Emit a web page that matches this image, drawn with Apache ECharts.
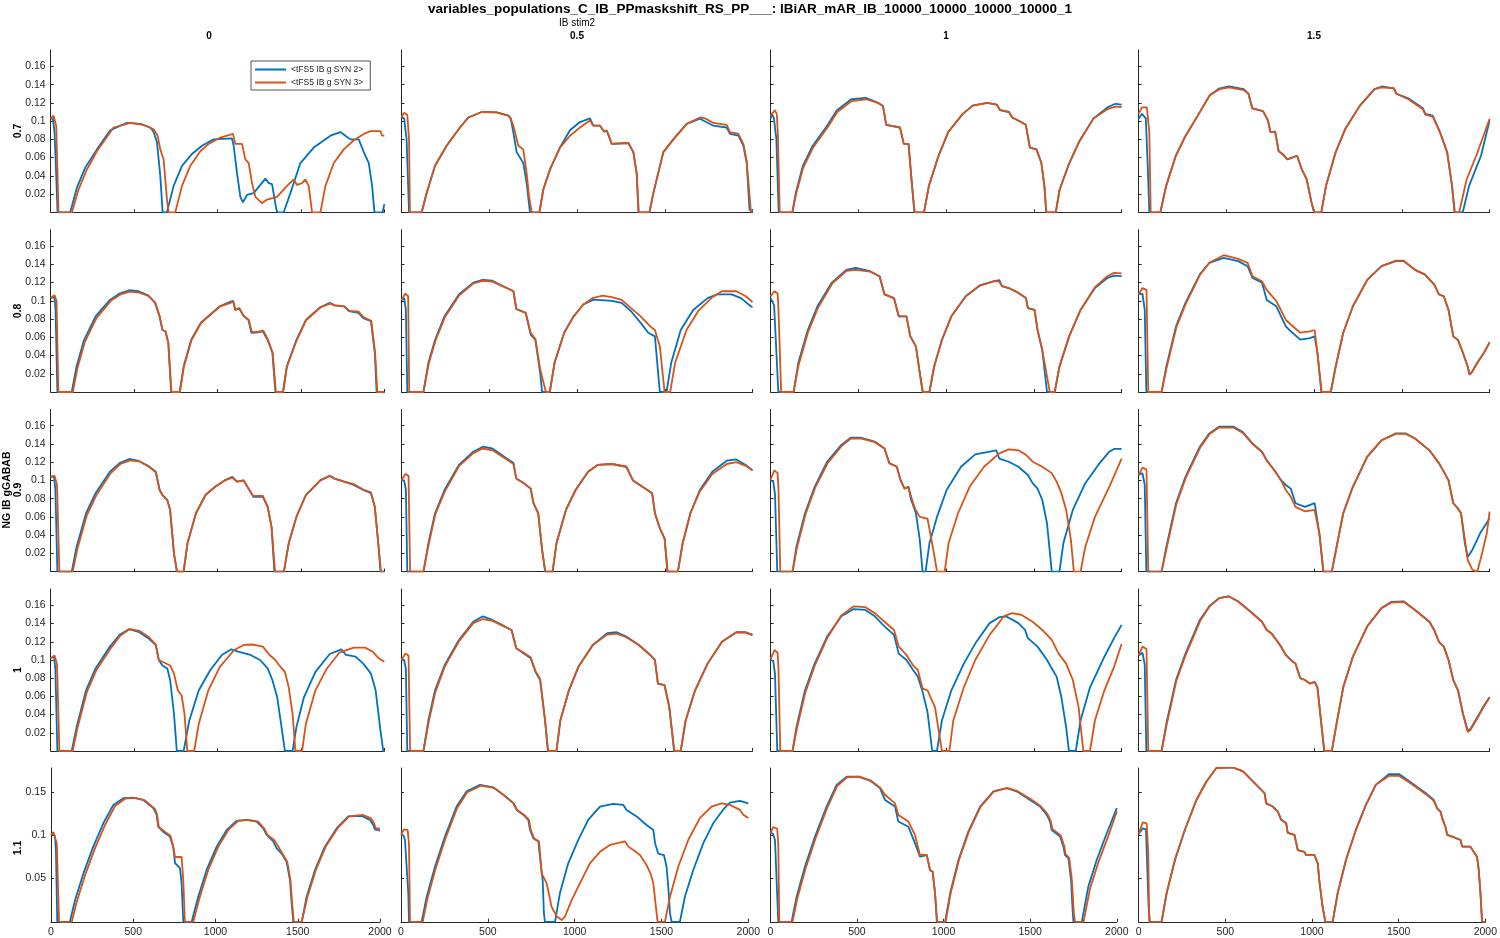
<!DOCTYPE html>
<html>
<head>
<meta charset="utf-8">
<script src="https://cdn.jsdelivr.net/npm/echarts@6/dist/echarts.min.js"></script>
<style>html,body{margin:0;padding:0;background:#fff}#c{width:1500px;height:938px}</style>
</head>
<body>
<div id="c"></div>
<script>
const titleText = 'variables_populations_C_IB_PPmaskshift_RS_PP___: IBiAR_mAR_IB_10000_10000_10000_10000_1';
const colVarName = 'IB stim2';
const rowVarName = 'NG IB gGABAB';
const colLabels = ['0', '0.5', '1', '1.5'];
const rowLabels = ['0.7', '0.8', '0.9', '1', '1.1'];
const seriesNames = ['<tFS5 IB g SYN 2>', '<tFS5 IB g SYN 3>'];
const xTicks = [0, 500, 1000, 1500, 2000];
const yTicksFine = [0.02, 0.04, 0.06, 0.08, 0.1, 0.12, 0.14, 0.16];
const yTicksCoarse = [0.05, 0.1, 0.15];

// row 0.7
const b11 = [[0,0.103],[12,0.104],[23,0.088],[31,0.051],[41,0],[117,0],[157,0.027],[207,0.049],[277,0.069],[357,0.090],[457,0.098],[537,0.097],[597,0.093],[617,0.088],[637,0.077],[657,0.040],[671,0],[697,0],[737,0.029],[787,0.051],[847,0.064],[907,0.073],[977,0.080],[1087,0.081],[1097,0.073],[1117,0.043],[1137,0.017],[1153,0.011],[1177,0.019],[1217,0.021],[1287,0.037],[1307,0.032],[1327,0.031],[1353,0.003],[1360,0],[1397,0],[1437,0.021],[1497,0.054],[1577,0.071],[1677,0.084],[1737,0.088],[1767,0.084],[1797,0.080],[1847,0.080],[1877,0.066],[1907,0.054],[1927,0.029],[1941,0],[1990,0],[2000,0.009]];
const o11 = [[0,0.102],[17,0.106],[27,0.105],[33,0.095],[47,0],[127,0],[167,0.025],[217,0.047],[277,0.067],[377,0.093],[477,0.098],[557,0.096],[617,0.091],[641,0.084],[657,0.069],[677,0.058],[697,0.014],[707,0],[747,0],[787,0.029],[837,0.051],[897,0.067],[947,0.075],[1017,0.082],[1093,0.086],[1107,0.075],[1147,0.075],[1167,0.058],[1187,0.054],[1207,0.032],[1227,0.017],[1267,0.010],[1297,0.014],[1357,0.017],[1417,0.029],[1457,0.036],[1477,0.030],[1507,0.032],[1527,0.036],[1547,0.029],[1567,0],[1617,0],[1647,0.029],[1697,0.054],[1757,0.069],[1817,0.079],[1877,0.086],[1917,0.089],[1977,0.089],[1987,0.084],[2000,0.084]];
const b12 = [[0,0.104],[15,0.103],[29,0.080],[43,0],[115,0],[143,0.021],[191,0.051],[257,0.073],[333,0.093],[381,0.104],[457,0.110],[542,0.1095],[609,0.106],[622,0.103],[637,0.088],[656,0.066],[694,0.054],[713,0.032],[732,0],[786,0],[808,0.025],[846,0.047],[903,0.071],[960,0.090],[1017,0.099],[1074,0.103],[1093,0.095],[1131,0.095],[1154,0.0885],[1170,0.0895],[1198,0.075],[1293,0.076],[1321,0.066],[1340,0.043],[1350,0],[1413,0],[1435,0.021],[1492,0.066],[1549,0.080],[1625,0.097],[1701,0.1026],[1730,0.0996],[1777,0.095],[1853,0.093],[1872,0.086],[1920,0.084],[1948,0.073],[1967,0.054],[1983,0.003],[2000,0]];
const o12 = [[0,0.104],[14,0.109],[33,0.107],[43,0.080],[48,0],[115,0],[143,0.021],[191,0.051],[257,0.073],[333,0.093],[381,0.104],[457,0.110],[542,0.1096],[609,0.106],[622,0.103],[637,0.095],[666,0.073],[694,0.069],[713,0.043],[727,0.017],[742,0],[786,0],[808,0.025],[846,0.047],[903,0.071],[960,0.084],[1017,0.093],[1074,0.1007],[1093,0.095],[1131,0.095],[1154,0.0885],[1170,0.0895],[1198,0.075],[1293,0.076],[1321,0.066],[1340,0.043],[1352,0],[1413,0],[1435,0.021],[1492,0.066],[1549,0.080],[1625,0.097],[1701,0.104],[1730,0.103],[1777,0.098],[1853,0.096],[1872,0.088],[1920,0.086],[1948,0.075],[1967,0.056],[1990,0.003],[2000,0]];
const b13 = [[0,0.103],[8,0.108],[19,0.103],[33,0.080],[46,0],[124,0],[143,0.021],[184,0.051],[240,0.073],[322,0.095],[378,0.112],[460,0.124],[543,0.1256],[612,0.120],[640,0.1167],[659,0.096],[737,0.093],[759,0.075],[786,0.075],[806,0.029],[819,0],[874,0],[902,0.029],[957,0.062],[1012,0.088],[1095,0.108],[1151,0.117],[1234,0.120],[1289,0.118],[1308,0.112],[1358,0.110],[1377,0.104],[1427,0.099],[1454,0.096],[1469,0.080],[1477,0.071],[1515,0.069],[1543,0.054],[1560,0.029],[1570,0],[1625,0],[1647,0.025],[1702,0.054],[1757,0.077],[1840,0.103],[1923,0.1155],[1965,0.119],[2000,0.118]];
const o13 = [[0,0.106],[24,0.112],[35,0.108],[41,0.088],[52,0],[124,0],[145,0.020],[186,0.049],[242,0.071],[324,0.093],[380,0.110],[462,0.122],[543,0.124],[612,0.120],[640,0.1167],[659,0.096],[737,0.093],[759,0.075],[786,0.075],[806,0.029],[821,0],[874,0],[902,0.029],[957,0.062],[1012,0.088],[1095,0.108],[1151,0.117],[1234,0.120],[1289,0.118],[1308,0.112],[1358,0.110],[1377,0.104],[1427,0.099],[1454,0.096],[1469,0.080],[1477,0.071],[1515,0.069],[1543,0.054],[1560,0.029],[1572,0],[1625,0],[1647,0.025],[1702,0.054],[1757,0.077],[1840,0.103],[1923,0.1135],[1965,0.116],[2000,0.1155]];
const b14 = [[0,0.1026],[19,0.108],[41,0.103],[52,0.051],[61,0],[124,0],[157,0.029],[212,0.062],[268,0.084],[337,0.106],[406,0.1285],[461,0.136],[516,0.138],[599,0.135],[626,0.130],[648,0.114],[709,0.111],[737,0.101],[751,0.088],[778,0.0885],[798,0.067],[820,0.064],[847,0.058],[875,0.060],[903,0.062],[930,0.047],[958,0.036],[986,0.010],[1000,0],[1041,0],[1068,0.029],[1123,0.066],[1179,0.092],[1261,0.117],[1344,0.135],[1386,0.138],[1455,0.136],[1469,0.130],[1537,0.125],[1620,0.114],[1634,0.108],[1676,0.106],[1717,0.088],[1758,0.066],[1786,0.029],[1800,0],[1847,0],[1883,0.029],[1951,0.062],[2000,0.1007]];
const o14 = [[0,0.108],[19,0.115],[47,0.115],[61,0.088],[69,0],[124,0],[157,0.029],[212,0.062],[268,0.084],[337,0.106],[406,0.1285],[461,0.135],[516,0.137],[599,0.134],[626,0.130],[648,0.114],[709,0.111],[737,0.101],[751,0.088],[778,0.0885],[798,0.067],[820,0.064],[847,0.058],[875,0.060],[903,0.062],[930,0.047],[958,0.036],[986,0.010],[1002,0],[1041,0],[1068,0.029],[1123,0.066],[1179,0.092],[1261,0.117],[1344,0.135],[1386,0.137],[1455,0.136],[1469,0.130],[1537,0.124],[1620,0.113],[1634,0.107],[1676,0.105],[1717,0.088],[1758,0.066],[1786,0.029],[1802,0],[1827,0],[1869,0.036],[1924,0.062],[2000,0.1026]];

// row 0.8
const b21 = [[0,0.103],[23,0.104],[29,0.090],[40,0],[126,0],[155,0.028],[200,0.057],[269,0.083],[355,0.101],[413,0.108],[470,0.1116],[527,0.1105],[584,0.106],[625,0.098],[653,0.083],[670,0.068],[688,0.0666],[705,0.054],[722,0],[773,0],[797,0.028],[842,0.057],[900,0.076],[957,0.085],[1014,0.094],[1072,0.0985],[1094,0.100],[1106,0.090],[1129,0.092],[1157,0.083],[1186,0.079],[1203,0.065],[1243,0.0655],[1272,0.0666],[1301,0.057],[1329,0.043],[1347,0],[1392,0],[1415,0.028],[1473,0.057],[1530,0.079],[1616,0.093],[1673,0.0977],[1702,0.095],[1759,0.094],[1788,0.0886],[1845,0.0867],[1874,0.081],[1920,0.0776],[1943,0.043],[1954,0],[2000,0]];
const o21 = [[0,0.103],[23,0.106],[35,0.100],[46,0],[133,0],[160,0.026],[205,0.055],[274,0.081],[360,0.100],[418,0.107],[475,0.110],[532,0.109],[589,0.105],[627,0.098],[653,0.083],[670,0.068],[688,0.0666],[705,0.054],[724,0],[775,0],[799,0.028],[844,0.057],[902,0.076],[959,0.085],[1016,0.094],[1074,0.0975],[1096,0.099],[1108,0.090],[1131,0.092],[1159,0.083],[1188,0.079],[1205,0.066],[1245,0.066],[1274,0.0675],[1303,0.057],[1331,0.043],[1350,0],[1394,0],[1417,0.028],[1475,0.057],[1532,0.079],[1618,0.093],[1675,0.097],[1704,0.095],[1761,0.094],[1790,0.089],[1847,0.088],[1876,0.082],[1922,0.078],[1945,0.043],[1958,0],[2000,0]];
const b22 = [[0,0.101],[15,0.103],[25,0.09],[33,0],[125,0],[153,0.032],[191,0.057],[245,0.083],[327,0.107],[409,0.120],[463,0.123],[518,0.122],[600,0.114],[638,0.1105],[654,0.091],[708,0.0867],[736,0.063],[763,0.057],[790,0.021],[801,0],[845,0],[872,0.032],[927,0.065],[981,0.083],[1036,0.096],[1090,0.101],[1117,0.101],[1199,0.100],[1254,0.0977],[1308,0.0886],[1363,0.0758],[1406,0.065],[1444,0.061],[1472,0],[1510,0],[1537,0.032],[1591,0.068],[1662,0.090],[1744,0.103],[1799,0.107],[1880,0.107],[1935,0.103],[1990,0.094],[2000,0.093]];
const o22 = [[0,0.101],[22,0.108],[38,0.105],[44,0],[125,0],[155,0.031],[193,0.056],[247,0.082],[329,0.106],[409,0.119],[463,0.122],[518,0.121],[600,0.114],[638,0.1105],[654,0.091],[708,0.0867],[736,0.065],[763,0.058],[790,0.025],[823,0],[845,0],[872,0.032],[927,0.065],[981,0.083],[1036,0.096],[1090,0.103],[1145,0.1058],[1199,0.104],[1254,0.101],[1308,0.092],[1363,0.083],[1417,0.072],[1444,0.068],[1472,0.050],[1499,0],[1531,0],[1559,0.032],[1624,0.068],[1690,0.0886],[1771,0.104],[1826,0.1105],[1908,0.1105],[1962,0.105],[2000,0.0985]];
const b23 = [[0,0.103],[10,0.101],[20,0.095],[44,0],[131,0],[158,0.032],[212,0.068],[267,0.094],[349,0.120],[431,0.134],[485,0.136],[567,0.1325],[621,0.127],[649,0.107],[703,0.103],[730,0.083],[774,0.083],[796,0.061],[828,0.050],[850,0.021],[866,0],[905,0],[932,0.028],[976,0.057],[1030,0.083],[1112,0.105],[1194,0.117],[1275,0.1215],[1303,0.1226],[1319,0.116],[1357,0.114],[1412,0.1087],[1455,0.103],[1466,0.092],[1504,0.090],[1521,0.068],[1548,0.046],[1575,0],[1619,0],[1646,0.028],[1701,0.061],[1766,0.090],[1848,0.114],[1919,0.125],[1957,0.1277],[2000,0.127]];
const o23 = [[0,0.105],[22,0.1105],[40,0.108],[45,0.09],[60,0],[131,0],[160,0.030],[214,0.066],[269,0.092],[351,0.119],[433,0.133],[485,0.134],[567,0.132],[621,0.127],[649,0.107],[703,0.103],[730,0.083],[774,0.083],[796,0.061],[828,0.050],[850,0.021],[868,0],[905,0],[932,0.028],[976,0.057],[1030,0.083],[1112,0.105],[1194,0.117],[1275,0.1215],[1303,0.121],[1319,0.116],[1357,0.114],[1412,0.1087],[1455,0.103],[1466,0.092],[1504,0.090],[1521,0.068],[1548,0.046],[1591,0],[1619,0],[1646,0.028],[1701,0.061],[1766,0.090],[1848,0.115],[1919,0.127],[1957,0.1307],[2000,0.130]];
const b24 = [[0,0.107],[22,0.108],[35,0.09],[44,0],[131,0],[158,0.028],[213,0.072],[267,0.0977],[349,0.129],[403,0.1417],[485,0.147],[567,0.1435],[621,0.138],[649,0.125],[703,0.120],[730,0.101],[785,0.094],[839,0.072],[867,0.0666],[921,0.0575],[976,0.059],[1003,0.061],[1019,0.043],[1041,0],[1095,0],[1123,0.028],[1166,0.065],[1221,0.094],[1303,0.123],[1384,0.138],[1466,0.1435],[1510,0.1435],[1575,0.134],[1630,0.129],[1684,0.118],[1711,0.107],[1739,0.105],[1766,0.090],[1793,0.061],[1820,0.057],[1848,0.043],[1875,0.028],[1886,0.019],[1902,0.0227],[1930,0.032],[1968,0.043],[2000,0.0545]];
const o24 = [[0,0.107],[22,0.114],[45,0.112],[55,0],[131,0],[160,0.027],[215,0.071],[269,0.097],[351,0.129],[405,0.142],[485,0.150],[567,0.146],[621,0.1417],[649,0.127],[703,0.1215],[730,0.112],[785,0.0996],[839,0.079],[867,0.074],[921,0.065],[976,0.0666],[1003,0.068],[1019,0.043],[1043,0],[1095,0],[1123,0.028],[1166,0.065],[1221,0.094],[1303,0.123],[1384,0.138],[1466,0.144],[1510,0.144],[1575,0.134],[1630,0.129],[1684,0.118],[1711,0.107],[1739,0.105],[1766,0.090],[1793,0.061],[1820,0.057],[1848,0.043],[1875,0.028],[1886,0.019],[1902,0.0227],[1930,0.032],[1968,0.043],[2000,0.0545]];

// row 0.9
const b31 = [[0,0.104],[20,0.104],[28,0.09],[40,0],[126,0],[155,0.027],[212,0.064],[269,0.086],[355,0.1096],[413,0.119],[470,0.1235],[527,0.1213],[584,0.116],[630,0.1096],[653,0.0895],[670,0.084],[699,0.0785],[716,0.0676],[739,0.020],[756,0],[797,0],[820,0.031],[871,0.064],[928,0.084],[986,0.093],[1043,0.100],[1089,0.104],[1117,0.0986],[1157,0.100],[1186,0.091],[1215,0.082],[1272,0.082],[1301,0.071],[1324,0.049],[1341,0],[1398,0],[1427,0.031],[1473,0.060],[1530,0.084],[1616,0.100],[1673,0.105],[1702,0.102],[1759,0.0986],[1816,0.095],[1874,0.0895],[1920,0.086],[1943,0.071],[1966,0.027],[1977,0],[2000,0]];
const o31 = [[0,0.104],[23,0.105],[38,0.095],[52,0],[132,0],[160,0.025],[217,0.062],[274,0.084],[360,0.108],[418,0.118],[475,0.122],[532,0.121],[589,0.115],[630,0.109],[653,0.0895],[670,0.084],[699,0.0785],[716,0.0676],[739,0.020],[758,0],[797,0],[820,0.031],[871,0.064],[928,0.084],[986,0.093],[1043,0.100],[1089,0.103],[1117,0.0986],[1157,0.100],[1186,0.091],[1215,0.083],[1272,0.083],[1301,0.071],[1324,0.049],[1345,0],[1398,0],[1427,0.031],[1473,0.060],[1530,0.084],[1616,0.100],[1673,0.105],[1702,0.102],[1759,0.0986],[1816,0.096],[1874,0.090],[1920,0.087],[1943,0.071],[1966,0.027],[1980,0],[2000,0]];
const b32 = [[0,0.100],[15,0.100],[25,0.09],[33,0],[125,0],[153,0.031],[191,0.064],[245,0.0895],[327,0.117],[409,0.1315],[463,0.137],[518,0.135],[600,0.124],[638,0.119],[654,0.102],[697,0.097],[736,0.091],[752,0.075],[779,0.064],[801,0.024],[818,0],[861,0],[883,0.031],[937,0.0676],[992,0.0895],[1063,0.1096],[1117,0.117],[1199,0.118],[1281,0.115],[1319,0.100],[1373,0.093],[1401,0.0895],[1428,0.086],[1444,0.064],[1472,0.0475],[1499,0.0365],[1515,0],[1575,0],[1602,0.031],[1646,0.064],[1700,0.0895],[1771,0.1096],[1853,0.1216],[1908,0.123],[1962,0.117],[2000,0.111]];
const o32 = [[0,0.100],[22,0.107],[40,0.105],[49,0],[125,0],[155,0.030],[193,0.063],[247,0.088],[329,0.116],[409,0.130],[463,0.135],[518,0.133],[600,0.123],[638,0.118],[654,0.102],[697,0.097],[736,0.091],[752,0.075],[779,0.064],[801,0.024],[820,0],[861,0],[883,0.031],[937,0.0676],[992,0.0895],[1063,0.1096],[1117,0.117],[1199,0.118],[1281,0.115],[1319,0.100],[1373,0.093],[1401,0.0895],[1428,0.086],[1444,0.064],[1472,0.0475],[1499,0.0365],[1517,0],[1575,0],[1602,0.031],[1646,0.064],[1700,0.088],[1771,0.107],[1853,0.118],[1908,0.120],[1962,0.116],[2000,0.111]];
const b33 = [[0,0.100],[15,0.099],[25,0.085],[38,0],[125,0],[147,0.027],[196,0.064],[251,0.093],[322,0.1205],[403,0.139],[458,0.147],[512,0.147],[594,0.1425],[649,0.135],[676,0.119],[719,0.115],[741,0.100],[763,0.091],[785,0.093],[801,0.0785],[828,0.064],[850,0.035],[866,0],[883,0],[905,0.031],[948,0.060],[1003,0.0895],[1085,0.115],[1166,0.1286],[1248,0.1315],[1286,0.133],[1303,0.124],[1357,0.1205],[1412,0.115],[1466,0.106],[1493,0.097],[1521,0.091],[1548,0.0785],[1575,0.053],[1602,0],[1646,0],[1668,0.031],[1722,0.0676],[1793,0.097],[1875,0.119],[1930,0.1315],[1957,0.1345],[2000,0.1345]];
const o33 = [[0,0.101],[22,0.111],[40,0.108],[45,0.09],[55,0],[125,0],[150,0.026],[199,0.063],[254,0.092],[325,0.119],[406,0.138],[458,0.146],[512,0.146],[594,0.142],[649,0.135],[676,0.119],[719,0.115],[741,0.100],[763,0.091],[785,0.093],[801,0.082],[823,0.069],[850,0.060],[894,0.058],[910,0.042],[937,0.013],[948,0],[992,0],[1014,0.031],[1068,0.064],[1134,0.093],[1216,0.115],[1303,0.1297],[1357,0.134],[1412,0.133],[1455,0.128],[1493,0.1205],[1548,0.115],[1602,0.108],[1630,0.0986],[1657,0.086],[1684,0.0676],[1711,0.035],[1728,0],[1766,0],[1793,0.027],[1848,0.060],[1930,0.093],[2000,0.124]];
const b34 = [[0,0.106],[22,0.108],[35,0.095],[44,0],[131,0],[158,0.027],[213,0.075],[267,0.104],[349,0.137],[403,0.1516],[458,0.159],[540,0.159],[594,0.153],[649,0.1406],[703,0.1315],[730,0.122],[758,0.115],[785,0.108],[812,0.100],[839,0.095],[867,0.091],[894,0.075],[948,0.071],[1003,0.075],[1030,0.042],[1052,0],[1101,0],[1128,0.027],[1166,0.064],[1221,0.093],[1303,0.126],[1384,0.144],[1466,0.1516],[1521,0.1516],[1575,0.146],[1657,0.133],[1711,0.119],[1739,0.1096],[1766,0.100],[1793,0.075],[1820,0.069],[1837,0.064],[1859,0.031],[1875,0.016],[1902,0.024],[1946,0.042],[2000,0.0585]];
const o34 = [[0,0.106],[22,0.114],[45,0.112],[55,0],[131,0],[160,0.026],[215,0.074],[269,0.103],[351,0.136],[405,0.151],[458,0.158],[540,0.158],[594,0.152],[649,0.140],[703,0.131],[730,0.122],[758,0.115],[785,0.108],[812,0.100],[839,0.0895],[867,0.082],[894,0.071],[948,0.066],[1003,0.0676],[1030,0.042],[1054,0],[1101,0],[1128,0.027],[1166,0.064],[1221,0.093],[1303,0.126],[1384,0.144],[1466,0.151],[1521,0.151],[1575,0.146],[1657,0.133],[1711,0.119],[1739,0.1096],[1766,0.100],[1793,0.075],[1820,0.069],[1837,0.064],[1859,0.035],[1875,0.013],[1902,0.002],[1930,0],[1957,0.020],[1984,0.042],[2000,0.0657]];

// row 1
const b41 = [[0,0.102],[20,0.104],[28,0.09],[40,0],[126,0],[155,0.026],[212,0.0667],[269,0.0907],[355,0.1147],[413,0.1276],[470,0.134],[527,0.131],[584,0.124],[630,0.1165],[648,0.100],[670,0.094],[699,0.0907],[716,0.078],[739,0.041],[756,0],[797,0],[831,0.0335],[888,0.0667],[957,0.089],[1026,0.1055],[1083,0.1117],[1129,0.109],[1198,0.1055],[1255,0.100],[1301,0.0907],[1329,0.078],[1358,0.059],[1387,0.0225],[1404,0],[1450,0],[1473,0.026],[1518,0.059],[1587,0.087],[1673,0.1066],[1742,0.1117],[1771,0.1055],[1828,0.1036],[1874,0.096],[1920,0.085],[1948,0.0667],[1977,0.0225],[1994,0],[2000,0]];
const o41 = [[0,0.102],[23,0.105],[38,0.095],[52,0],[132,0],[160,0.025],[217,0.065],[274,0.089],[360,0.113],[418,0.127],[475,0.134],[532,0.132],[589,0.125],[630,0.117],[648,0.100],[670,0.098],[716,0.094],[739,0.085],[762,0.0667],[785,0.061],[802,0.041],[819,0],[860,0],[888,0.030],[945,0.0667],[1014,0.0925],[1100,0.111],[1157,0.1165],[1215,0.117],[1272,0.1147],[1312,0.1055],[1347,0.100],[1370,0.094],[1404,0.087],[1427,0.070],[1450,0.041],[1467,0],[1507,0],[1530,0.030],[1587,0.0667],[1656,0.0907],[1730,0.108],[1816,0.1136],[1885,0.1136],[1931,0.109],[1966,0.102],[2000,0.098]];
const b42 = [[0,0.100],[15,0.100],[25,0.09],[33,0],[125,0],[153,0.0335],[191,0.0667],[245,0.094],[327,0.122],[409,0.142],[463,0.148],[518,0.144],[572,0.1386],[627,0.133],[654,0.113],[697,0.107],[736,0.102],[763,0.087],[790,0.078],[818,0.0335],[834,0],[883,0],[905,0.0335],[954,0.0667],[1008,0.0925],[1090,0.1165],[1172,0.1294],[1226,0.1305],[1281,0.1257],[1352,0.1165],[1417,0.1055],[1444,0.100],[1461,0.074],[1499,0.0723],[1526,0.048],[1553,0],[1591,0],[1619,0.0335],[1673,0.0667],[1744,0.096],[1826,0.120],[1908,0.1305],[1962,0.1305],[2000,0.128]];
const o42 = [[0,0.100],[22,0.107],[40,0.105],[49,0],[125,0],[155,0.032],[193,0.065],[247,0.093],[329,0.121],[409,0.1405],[463,0.145],[518,0.143],[572,0.138],[627,0.133],[654,0.113],[697,0.108],[736,0.103],[763,0.088],[790,0.079],[818,0.0335],[836,0],[883,0],[905,0.0335],[954,0.0667],[1008,0.0925],[1090,0.1165],[1172,0.128],[1226,0.129],[1281,0.125],[1352,0.1165],[1417,0.1055],[1444,0.100],[1461,0.074],[1499,0.0723],[1526,0.048],[1555,0],[1591,0],[1619,0.0335],[1673,0.0667],[1744,0.096],[1826,0.120],[1908,0.1305],[1962,0.130],[2000,0.127]];
const b43 = [[0,0.100],[15,0.099],[25,0.085],[38,0],[125,0],[147,0.026],[196,0.0667],[251,0.096],[322,0.1257],[403,0.148],[474,0.156],[540,0.155],[594,0.148],[649,0.137],[703,0.1276],[730,0.107],[774,0.100],[812,0.089],[839,0.0815],[866,0.065],[894,0.0428],[921,0],[948,0],[976,0.0335],[1030,0.0667],[1101,0.096],[1166,0.118],[1248,0.1405],[1303,0.147],[1341,0.148],[1412,0.1405],[1450,0.133],[1466,0.124],[1521,0.1147],[1575,0.100],[1630,0.0815],[1657,0.059],[1684,0.026],[1700,0],[1739,0],[1766,0.0335],[1820,0.070],[1902,0.1036],[1957,0.124],[2000,0.1386]];
const o43 = [[0,0.101],[22,0.111],[40,0.108],[45,0.09],[55,0],[125,0],[150,0.025],[199,0.065],[254,0.095],[325,0.125],[403,0.149],[474,0.159],[540,0.158],[594,0.1515],[649,0.142],[703,0.133],[730,0.1147],[774,0.1055],[812,0.094],[839,0.089],[866,0.0686],[894,0.0667],[937,0.048],[976,0],[1019,0],[1041,0.0335],[1101,0.070],[1166,0.100],[1248,0.1276],[1330,0.148],[1374,0.1515],[1428,0.1497],[1493,0.142],[1548,0.133],[1602,0.122],[1641,0.107],[1684,0.096],[1722,0.078],[1755,0.048],[1782,0],[1820,0],[1848,0.0335],[1902,0.0667],[1957,0.0925],[2000,0.1176]];
const b44 = [[0,0.105],[22,0.108],[35,0.095],[44,0],[131,0],[158,0.030],[213,0.078],[267,0.107],[349,0.144],[403,0.159],[458,0.168],[512,0.170],[567,0.1645],[649,0.1515],[703,0.142],[730,0.133],[758,0.129],[785,0.122],[812,0.1147],[839,0.1055],[867,0.100],[894,0.096],[921,0.080],[948,0.078],[976,0.074],[1003,0.076],[1019,0.070],[1041,0.030],[1057,0],[1101,0],[1128,0.030],[1166,0.070],[1221,0.1036],[1303,0.137],[1384,0.157],[1439,0.1637],[1510,0.1645],[1575,0.155],[1657,0.142],[1684,0.133],[1711,0.120],[1739,0.1147],[1766,0.100],[1793,0.078],[1820,0.0667],[1848,0.041],[1875,0.0225],[1891,0.0243],[1930,0.037],[1968,0.050],[2000,0.059]];
const o44 = [[0,0.105],[22,0.1147],[45,0.112],[55,0],[131,0],[160,0.029],[215,0.077],[269,0.106],[351,0.143],[405,0.159],[460,0.168],[514,0.170],[569,0.164],[649,0.151],[703,0.142],[730,0.133],[758,0.129],[785,0.122],[812,0.1147],[839,0.1055],[867,0.100],[894,0.096],[921,0.080],[948,0.078],[976,0.074],[1003,0.076],[1019,0.070],[1041,0.030],[1059,0],[1101,0],[1128,0.030],[1166,0.070],[1221,0.1036],[1303,0.137],[1384,0.157],[1439,0.163],[1510,0.164],[1575,0.155],[1657,0.142],[1684,0.133],[1711,0.120],[1739,0.1147],[1766,0.100],[1793,0.078],[1820,0.0667],[1848,0.041],[1875,0.021],[1891,0.023],[1930,0.036],[1968,0.049],[2000,0.059]];

// row 1.1
const b51 = [[0,0.1005],[14,0.102],[24,0.099],[30,0.083],[38,0],[115,0],[146,0.025],[197,0.056],[257,0.087],[318,0.114],[379,0.1353],[440,0.143],[500,0.1438],[561,0.141],[622,0.1315],[642,0.124],[652,0.110],[683,0.104],[723,0.0986],[743,0.087],[754,0.068],[784,0.062],[794,0.0445],[804,0],[855,0],[895,0.029],[946,0.060],[1007,0.087],[1068,0.1063],[1128,0.1168],[1189,0.118],[1250,0.116],[1291,0.108],[1311,0.1005],[1351,0.093],[1372,0.085],[1402,0.079],[1432,0.0696],[1453,0.048],[1463,0.021],[1473,0],[1524,0],[1554,0.029],[1605,0.060],[1665,0.087],[1736,0.108],[1807,0.122],[1888,0.1225],[1939,0.118],[1959,0.112],[1969,0.107],[2000,0.1055]];
const o51 = [[0,0.1005],[14,0.104],[24,0.104],[35,0.091],[49,0],[126,0],[156,0.023],[207,0.054],[267,0.085],[328,0.112],[389,0.134],[450,0.1425],[510,0.1435],[571,0.1405],[632,0.1305],[645,0.124],[655,0.110],[686,0.105],[726,0.0995],[743,0.087],[754,0.075],[794,0.075],[804,0.048],[814,0],[865,0],[905,0.029],[956,0.060],[1017,0.087],[1078,0.1063],[1138,0.1168],[1199,0.118],[1260,0.116],[1296,0.108],[1316,0.1005],[1356,0.0947],[1376,0.089],[1406,0.079],[1436,0.0696],[1456,0.048],[1466,0.021],[1476,0],[1524,0],[1559,0.029],[1610,0.060],[1670,0.087],[1741,0.108],[1812,0.122],[1893,0.1237],[1944,0.120],[1964,0.114],[1974,0.108],[2000,0.108]];
const b52 = [[0,0.1005],[15,0.100],[23,0.0947],[42,0.033],[46,0],[119,0],[148,0.029],[196,0.064],[253,0.0986],[320,0.1334],[378,0.151],[455,0.1585],[532,0.1555],[589,0.147],[646,0.1373],[666,0.1295],[704,0.124],[733,0.118],[743,0.1063],[762,0.0967],[791,0.093],[800,0.0754],[816,0.048],[823,0.0097],[829,0],[887,0],[915,0.033],[963,0.0677],[1021,0.0947],[1078,0.118],[1146,0.1334],[1222,0.1365],[1280,0.1353],[1299,0.1295],[1357,0.122],[1414,0.112],[1453,0.1063],[1463,0.091],[1481,0.079],[1514,0.0773],[1529,0.064],[1539,0.041],[1549,0.0097],[1558,0],[1606,0],[1635,0.029],[1683,0.060],[1741,0.091],[1798,0.114],[1856,0.130],[1894,0.138],[1952,0.140],[2000,0.137]];
const o52 = [[0,0.1005],[17,0.107],[38,0.1063],[46,0.09],[52,0],[125,0],[152,0.027],[200,0.062],[257,0.097],[324,0.132],[382,0.150],[459,0.1575],[536,0.155],[593,0.1465],[650,0.137],[670,0.129],[708,0.124],[737,0.118],[747,0.1063],[766,0.0967],[795,0.093],[810,0.056],[839,0.0445],[867,0.0174],[896,0.0066],[925,0.002],[944,0.006],[983,0.025],[1030,0.0445],[1088,0.0677],[1146,0.081],[1203,0.089],[1290,0.093],[1309,0.087],[1338,0.083],[1376,0.0773],[1414,0.0657],[1437,0.056],[1453,0.0445],[1472,0.0097],[1478,0],[1520,0],[1549,0.029],[1597,0.064],[1654,0.0947],[1721,0.120],[1788,0.1334],[1846,0.137],[1894,0.1353],[1952,0.1295],[1971,0.124],[2000,0.120]];
const b53 = [[0,0.1025],[15,0.102],[27,0.0947],[46,0],[123,0],[152,0.029],[200,0.064],[258,0.0986],[325,0.1334],[383,0.1585],[441,0.168],[508,0.168],[576,0.1635],[633,0.1547],[662,0.141],[720,0.1334],[739,0.116],[797,0.110],[835,0.091],[864,0.0754],[903,0.0773],[922,0.060],[937,0.058],[951,0.033],[961,0],[1009,0],[1038,0.033],[1086,0.0715],[1143,0.1044],[1211,0.1334],[1288,0.151],[1365,0.1547],[1422,0.151],[1499,0.141],[1557,0.1334],[1596,0.1237],[1615,0.116],[1624,0.1063],[1673,0.0986],[1692,0.087],[1701,0.0773],[1721,0.0735],[1736,0.048],[1746,0.0097],[1750,0],[1798,0],[1836,0.041],[1884,0.0715],[1942,0.1025],[2000,0.1315]];
const o53 = [[0,0.1025],[17,0.1095],[40,0.108],[46,0.09],[52,0],[128,0],[156,0.027],[204,0.062],[262,0.097],[329,0.132],[387,0.1575],[445,0.1675],[512,0.168],[580,0.1635],[637,0.1547],[662,0.147],[720,0.137],[739,0.1237],[797,0.116],[835,0.1005],[864,0.0773],[903,0.0773],[922,0.060],[937,0.058],[951,0.033],[963,0],[1012,0],[1041,0.033],[1089,0.0715],[1146,0.1044],[1214,0.1334],[1291,0.151],[1368,0.1547],[1425,0.1515],[1502,0.142],[1560,0.134],[1599,0.125],[1618,0.117],[1628,0.1075],[1676,0.100],[1696,0.088],[1705,0.078],[1725,0.074],[1740,0.050],[1752,0.010],[1759,0],[1808,0],[1846,0.039],[1894,0.069],[1952,0.100],[2000,0.1276]];
const b54 = [[0,0.1017],[23,0.108],[42,0.107],[57,0.0174],[65,0],[132,0],[161,0.033],[209,0.0715],[266,0.1063],[333,0.141],[391,0.1624],[448,0.178],[544,0.1787],[602,0.174],[659,0.1624],[726,0.149],[736,0.137],[774,0.1334],[803,0.1276],[822,0.118],[851,0.114],[860,0.103],[899,0.1005],[918,0.083],[956,0.081],[966,0.0773],[1014,0.0773],[1033,0.0677],[1042,0.048],[1061,0.0174],[1077,0],[1119,0],[1148,0.033],[1196,0.0715],[1253,0.1063],[1311,0.1353],[1368,0.1585],[1445,0.171],[1502,0.171],[1579,0.160],[1655,0.149],[1703,0.141],[1722,0.1315],[1742,0.1276],[1751,0.120],[1770,0.110],[1780,0.1005],[1809,0.0986],[1857,0.0947],[1866,0.087],[1914,0.087],[1933,0.081],[1952,0.0754],[1962,0.060],[1972,0.033],[1981,0],[2000,0]];
const o54 = [[0,0.1017],[23,0.115],[46,0.114],[55,0.08],[61,0],[132,0],[161,0.033],[209,0.0715],[266,0.1063],[333,0.141],[391,0.1624],[448,0.178],[544,0.1787],[602,0.174],[659,0.1624],[726,0.149],[736,0.137],[774,0.1334],[803,0.1276],[822,0.118],[851,0.114],[860,0.103],[899,0.1005],[918,0.083],[956,0.081],[966,0.0773],[1014,0.0773],[1033,0.0677],[1042,0.048],[1061,0.0174],[1077,0],[1119,0],[1148,0.033],[1196,0.0715],[1253,0.1063],[1311,0.1353],[1368,0.1585],[1445,0.169],[1502,0.169],[1579,0.159],[1655,0.148],[1703,0.140],[1722,0.131],[1742,0.127],[1751,0.120],[1770,0.110],[1780,0.1005],[1809,0.0986],[1857,0.0947],[1866,0.087],[1914,0.087],[1933,0.081],[1952,0.0754],[1962,0.060],[1972,0.033],[1981,0],[2000,0]];

const panels = [
  [b11,o11],[b12,o12],[b13,o13],[b14,o14],
  [b21,o21],[b22,o22],[b23,o23],[b24,o24],
  [b31,o31],[b32,o32],[b33,o33],[b34,o34],
  [b41,o41],[b42,o42],[b43,o43],[b44,o44],
  [b51,o51],[b52,o52],[b53,o53],[b54,o54]
];

// layout
const BLUE = '#0072BD', ORANGE = '#D95319', AX = '#262626';
const FONT = '"Liberation Sans", Arial, Helvetica, sans-serif';
const rowTops = [50, 229.7, 409.3, 589, 768];
const rowHeights = [162.3, 162.3, 162.3, 162, 153.8];
const colLefts = [50.7, 401.5, 770.6, 1138.6];
const colWidths = [333.6, 351, 351, 351];
const lastLefts = [51, 401, 770.3, 1138.7];
const lastWidths = [329, 347.3, 346.5, 349];

const grids = [], xAxes = [], yAxes = [], series = [];
const fmtY = v => String(Math.round(v * 100) / 100);
const fmtX = v => String(Math.round(v));
for (let r = 0; r < 5; r++) {
  for (let c = 0; c < 4; c++) {
    const i = r * 4 + c;
    const last = r === 4;
    grids.push({
      left: last ? lastLefts[c] : colLefts[c],
      top: rowTops[r],
      width: last ? lastWidths[c] : colWidths[c],
      height: rowHeights[r]
    });
    xAxes.push({
      type: 'value', gridIndex: i, min: 0, max: 2000, interval: 500,
      axisLine: { show: true, onZero: false, lineStyle: { color: AX, width: 1 } },
      axisTick: { show: true, inside: true, length: 3, lineStyle: { color: AX }, customValues: xTicks },
      axisLabel: { show: last, fontSize: 10.5, color: AX, margin: 5, fontFamily: FONT, formatter: fmtX, customValues: xTicks, showMinLabel: true, showMaxLabel: true, hideOverlap: false },
      splitLine: { show: false }
    });
    const yt = last ? yTicksCoarse : yTicksFine;
    yAxes.push({
      type: 'value', gridIndex: i, min: 0, max: 0.178, interval: last ? 0.05 : 0.02,
      axisLine: { show: true, onZero: false, lineStyle: { color: AX, width: 1 } },
      axisTick: { show: true, inside: true, length: 3, lineStyle: { color: AX }, customValues: yt },
      axisLabel: { show: c === 0, fontSize: 10.5, color: AX, margin: 5, fontFamily: FONT, formatter: fmtY, customValues: yt, showMinLabel: true, showMaxLabel: true, hideOverlap: false },
      splitLine: { show: false }
    });
    [BLUE, ORANGE].forEach((col, k) => {
      series.push({
        type: 'line', name: seriesNames[k], xAxisIndex: i, yAxisIndex: i,
        data: panels[i][k], symbol: 'none', showSymbol: false,
        lineStyle: { color: col, width: 1.8 }, itemStyle: { color: col },
        emphasis: { disabled: true }, animation: false, z: 2 + k
      });
    });
  }
}

const colCenters = [209, 577, 946, 1314];
const graphics = [
  { type: 'text', x: 577, y: 23, style: { text: colVarName, font: '10px ' + FONT, fill: '#000', textAlign: 'center', textVerticalAlign: 'middle' } },
  { type: 'text', x: 750, y: 9, style: { text: titleText, font: 'bold 13.5px ' + FONT, fill: '#000', textAlign: 'center', textVerticalAlign: 'middle' } }
];
colLabels.forEach((t, c) => graphics.push({ type: 'text', x: colCenters[c], y: 36, style: { text: t, font: 'bold 10px ' + FONT, fill: '#000', textAlign: 'center', textVerticalAlign: 'middle' } }));
const rowCenters = [131, 311, 490, 670, 848];
rowLabels.forEach((t, r) => graphics.push({ type: 'text', x: 18, y: rowCenters[r], rotation: Math.PI / 2, style: { text: t, font: 'bold 10.5px ' + FONT, fill: '#000', textAlign: 'center', textVerticalAlign: 'middle' } }));
graphics.push({ type: 'text', x: 7, y: 490, rotation: Math.PI / 2, style: { text: rowVarName, font: 'bold 10.5px ' + FONT, fill: '#000', textAlign: 'center', textVerticalAlign: 'middle' } });

const chart = echarts.init(document.getElementById('c'), null, { renderer: 'canvas' });
chart.setOption({
  backgroundColor: '#fff',
  animation: false,
  textStyle: { fontFamily: FONT },
  legend: {
    data: seriesNames, orient: 'vertical', left: 251, top: 61,
    icon: 'rect', itemWidth: 31, itemHeight: 2, itemGap: 4,
    padding: [4, 7, 3, 4], borderColor: AX, borderWidth: 0.8, backgroundColor: '#fff',
    textStyle: { fontSize: 8.5, color: AX, fontFamily: FONT },
    selectedMode: false
  },
  grid: grids, xAxis: xAxes, yAxis: yAxes, series: series,
  graphic: graphics
});
</script>
</body>
</html>
